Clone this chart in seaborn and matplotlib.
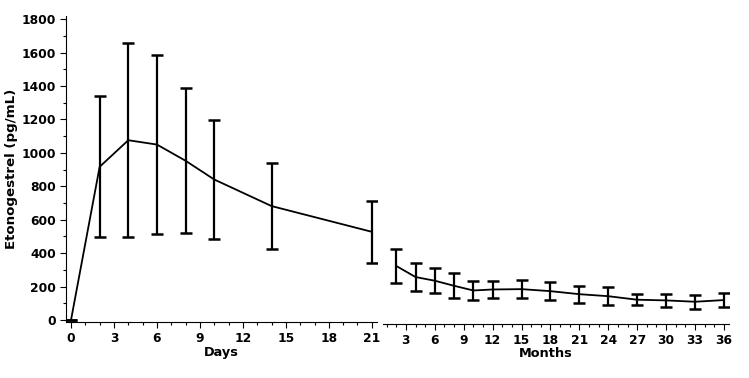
import numpy as np
import pandas as pd
import seaborn as sns
import matplotlib.pyplot as plt
from matplotlib.ticker import MultipleLocator

days = [0, 2, 4, 6, 8, 10, 14, 21]
day_mean = [0, 917, 1076, 1050, 953, 841, 682, 528]
day_sd = [0, 421, 580, 538, 434, 358, 259, 184]

months = [2, 4, 6, 8, 10, 12, 15, 18, 21, 24, 27, 30, 33, 36]
month_mean = [333, 267, 245, 215, 187, 193, 195, 183, 165, 153, 132, 128, 120, 130]
month_sd = [99, 82, 73, 73, 59, 53, 53, 55, 51, 55, 33, 41, 42, 42]

sns.set_style('ticks', {'axes.edgecolor': 'black', 'xtick.color': 'black',
                        'ytick.color': 'black', 'text.color': 'black',
                        'axes.labelcolor': 'black'})
plt.rcParams['font.family'] = ['DejaVu Sans']
plt.rcParams['font.weight'] = 'bold'

df_d = pd.DataFrame({'t': days, 'mean': day_mean, 'sd': day_sd})
df_m = pd.DataFrame({'t': months, 'mean': month_mean, 'sd': month_sd})

fig = plt.figure(figsize=(7.49, 3.78), dpi=100)
ax1 = fig.add_axes([0.0881, 0.148, 0.415, 0.81])
ax2 = fig.add_axes([0.511, 0.143, 0.462, 0.815])

for ax, d in [(ax1, df_d), (ax2, df_m)]:
    sns.lineplot(data=d, x='t', y='mean', ax=ax, color='black', lw=1.3)
    ax.errorbar(d['t'], d['mean'], yerr=d['sd'], fmt='none', ecolor='black',
                elinewidth=1.6, capsize=4.5, capthick=1.8)
    ax.set_ylim(-12, 1820)
    ax.spines['top'].set_visible(False)
    ax.spines['right'].set_visible(False)
    ax.xaxis.set_minor_locator(MultipleLocator(1))
    ax.xaxis.set_major_locator(MultipleLocator(3))
    ax.tick_params(axis='both', which='major', length=4, width=0.8, labelsize=8.8,
                   pad=3, colors='black')
    ax.tick_params(axis='both', which='minor', length=2.5, width=0.8, colors='black')
    for lab in ax.get_xticklabels() + ax.get_yticklabels():
        lab.set_fontweight('bold')

ax1.set_xlim(-0.35, 21.35)
ax1.yaxis.set_major_locator(MultipleLocator(200))
ax1.yaxis.set_minor_locator(MultipleLocator(100))
ax1.set_xlabel('Days', fontsize=9.3, fontweight='bold', labelpad=1)
ax1.set_ylabel('Etonogestrel (pg/mL)', fontsize=9.6, fontweight='bold', labelpad=3)

ax2.set_xlim(0.6, 36.5)
ax2.set_xticks(range(3, 37, 3))
ax2.spines['left'].set_visible(False)
ax2.set_yticks([])
ax2.set_ylabel('')
ax2.set_xlabel('Months', fontsize=9.3, fontweight='bold', labelpad=1)
ax2.xaxis.set_label_coords(0.47, -0.075)

plt.savefig('out.png', dpi=100)
